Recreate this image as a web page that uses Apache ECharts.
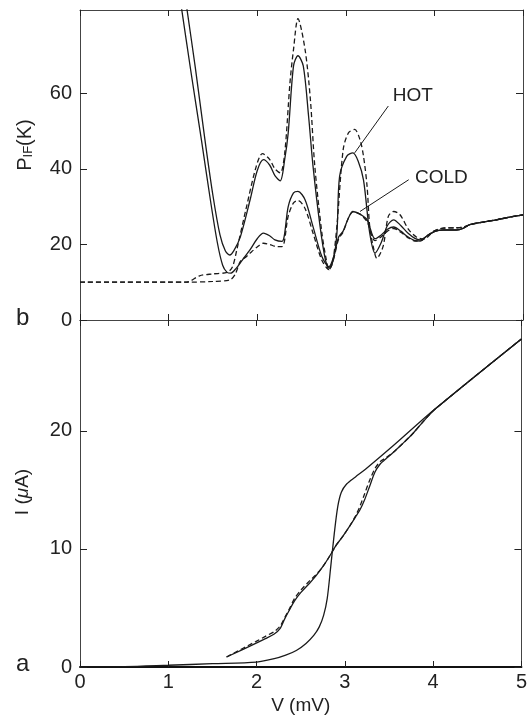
<!DOCTYPE html>
<html lang="en">
<head>
    <meta charset="UTF-8">
    <script src="https://cdn.jsdelivr.net/npm/echarts@6.0.0/dist/echarts.min.js"></script>
    <title>P_IF and I-V</title>
</head>
<body style="margin: 0; background: #fff">
<div id="container" style="width: 530px; height: 721px"></div>

<script>
    // ---- upper panel (b): IF output power, V in mV, P in K ----
    var hotSolidV = [1.19, 1.30, 1.41, 1.50, 1.58, 1.64, 1.69, 1.74, 1.81, 1.92, 2.00, 2.07, 2.14, 2.20, 2.26, 2.31, 2.35, 2.41, 2.46, 2.52, 2.58, 2.63, 2.71, 2.77, 2.81, 2.86, 2.90, 2.93, 3.01, 3.08, 3.14, 3.20, 3.27, 3.33, 3.40, 3.47, 3.54, 3.62, 3.70, 3.78, 3.84, 3.92, 4.00, 4.10, 4.25, 4.33, 4.40, 4.55, 4.70, 4.85, 5.00];
    var hotSolidP = [85, 67, 47.7, 33, 22.5, 18.3, 17.2, 18.5, 22, 31.8, 39.5, 42.4, 41, 38.2, 36.8, 42.4, 49.5, 67.2, 69.9, 67.2, 53.9, 40.7, 24.7, 15.9, 13.7, 16, 23, 38, 43.3, 44.2, 42, 37, 23, 17.7, 20.5, 25, 26.5, 25, 23, 21.6, 21.2, 22.3, 23.4, 23.8, 23.8, 24.3, 25.2, 25.9, 26.5, 27.2, 27.8];

    var hotDashV = [0, 0.5, 1.0, 1.20, 1.35, 1.50, 1.66, 1.72, 1.77, 1.88, 1.99, 2.06, 2.14, 2.20, 2.26, 2.31, 2.37, 2.41, 2.46, 2.54, 2.60, 2.65, 2.73, 2.78, 2.81, 2.85, 2.90, 2.97, 3.03, 3.10, 3.16, 3.20, 3.24, 3.27, 3.31, 3.35, 3.42, 3.48, 3.54, 3.61, 3.71, 3.80, 3.88, 4.00, 4.10, 4.25, 4.33, 4.40, 4.55, 4.70, 4.85, 5.00];
    var hotDashP = [10, 10, 10, 10, 11.7, 12.2, 12.6, 14, 18.6, 30, 40.7, 44, 42.5, 40, 38.9, 44, 62.8, 71.6, 79.7, 71.6, 58.4, 40.7, 23, 15.9, 13.3, 15, 25, 45, 49.5, 50.4, 47.7, 43.3, 35.4, 24.7, 19.4, 16.3, 19.4, 27.4, 28.7, 27.9, 23.9, 21.9, 21.4, 23.6, 24.3, 24.4, 24.6, 25.2, 25.9, 26.5, 27.2, 27.8];

    var coldSolidV = [1.13, 1.25, 1.37, 1.47, 1.55, 1.61, 1.66, 1.70, 1.76, 1.83, 1.92, 2.00, 2.07, 2.14, 2.20, 2.28, 2.35, 2.41, 2.46, 2.54, 2.63, 2.73, 2.81, 2.86, 2.92, 2.97, 3.03, 3.08, 3.16, 3.24, 3.33, 3.40, 3.47, 3.54, 3.62, 3.70, 3.78, 3.84, 3.92, 4.00, 4.10, 4.25, 4.33, 4.40, 4.55, 4.70, 4.85, 5.00];
    var coldSolidP = [85, 66, 47.7, 32, 20.5, 14.5, 12.6, 12.4, 13.6, 15.8, 18.6, 21.5, 23, 22.3, 21.2, 20.8, 30, 33.6, 34, 31.8, 24.7, 16.8, 14.1, 16.5, 22, 23.5, 27, 28.7, 28, 26.5, 21.5, 22.5, 24, 24.6, 23.5, 22, 21, 20.9, 22.3, 23.4, 23.8, 23.8, 24.3, 25.2, 25.9, 26.5, 27.2, 27.8];

    var coldDashV = [0, 0.5, 1.0, 1.20, 1.50, 1.69, 1.75, 1.81, 1.88, 1.92, 2.00, 2.07, 2.14, 2.20, 2.28, 2.35, 2.41, 2.46, 2.54, 2.63, 2.73, 2.81, 2.86, 2.92, 2.97, 3.03, 3.08, 3.16, 3.24, 3.33, 3.40, 3.47, 3.54, 3.62, 3.70, 3.78, 3.84, 3.92, 4.00, 4.10, 4.25, 4.33, 4.40, 4.55, 4.70, 4.85, 5.00];
    var coldDashP = [10, 10, 10, 10, 10.2, 10.6, 12, 15.5, 16.8, 17.7, 19.3, 20.3, 20, 19.5, 19.4, 27.5, 31, 31.6, 29.5, 23, 15.8, 13.3, 16, 21.5, 23.3, 27, 28.6, 28, 26, 21, 22, 23.5, 24.2, 23.2, 21.8, 20.9, 20.9, 22.3, 23.6, 24.3, 24.4, 24.6, 25.2, 25.9, 26.5, 27.2, 27.8];

    // ---- lower panel (a): I-V curves, I in uA ----
    var ivDarkV = [0, 0.5, 1.0, 1.5, 2.0, 2.2, 2.33, 2.45, 2.56, 2.65, 2.71, 2.76, 2.80, 2.84, 2.88, 2.92, 2.96, 3.02, 3.12, 3.24, 3.54, 4.01, 5.00];
    var ivDarkI = [0, 0.03, 0.15, 0.28, 0.42, 0.7, 1.0, 1.4, 2.0, 2.7, 3.4, 4.4, 5.8, 8.5, 11.3, 13.6, 14.8, 15.5, 16.1, 16.8, 18.7, 21.8, 27.8];

    var ivPumpV = [1.66, 1.99, 2.10, 2.20, 2.27, 2.32, 2.37, 2.43, 2.50, 2.60, 2.67, 2.75, 2.82, 2.90, 2.97, 3.06, 3.12, 3.17, 3.22, 3.28, 3.34, 3.40, 3.46, 3.55, 3.65, 3.76, 3.90, 4.03, 5.00];
    var ivPumpI = [0.85, 2.0, 2.4, 2.8, 3.3, 4.1, 4.8, 5.6, 6.3, 7.1, 7.7, 8.5, 9.3, 10.3, 11.0, 12.0, 12.7, 13.3, 14.1, 15.3, 16.5, 17.2, 17.6, 18.2, 18.9, 19.7, 20.9, 21.9, 27.8];
    var ivPumpDashI = [0.85, 2.15, 2.6, 3.0, 3.5, 4.2, 4.9, 5.8, 6.5, 7.3, 7.8, 8.5, 9.3, 10.3, 11.0, 12.0, 12.8, 13.6, 14.6, 15.8, 16.8, 17.4, 17.7, 18.2, 18.9, 19.7, 20.9, 21.9, 27.8];

    var pTicks = [0, 20, 40, 60];
    var iTicks = [0, 10, 20];

    function pairs(xs, ys) {
        var out = [];
        for (var i = 0; i < xs.length; i++) {
            out.push([xs[i], ys[i]]);
        }
        return out;
    }

    var font = "'Liberation Sans', Arial, sans-serif";
    var ink = '#1a1a1a';
    var axisGrey = '#444';

    var dom = document.getElementById('container');
    var myChart = echarts.init(dom, null, {renderer: 'canvas'});

    function xAxisOf(gridIndex, position, showLabel, lineWidth) {
        return {
            type: 'value', gridIndex: gridIndex, position: position,
            min: 0, max: 5, interval: 1,
            axisLine: {show: true, onZero: false, lineStyle: {color: showLabel ? '#111' : axisGrey, width: lineWidth}},
            axisTick: {show: true, inside: true, length: 6, lineStyle: {color: '#222'}},
            axisLabel: {show: showLabel, fontSize: 20, color: '#222', fontFamily: font, margin: 5},
            splitLine: {show: false}
        };
    }

    function yAxisOf(gridIndex, position, max, ticks, showLabel) {
        return {
            type: 'value', gridIndex: gridIndex, position: position,
            min: 0, max: max,
            axisLine: {show: true, onZero: false, lineStyle: {color: axisGrey, width: 1}},
            axisTick: {show: true, inside: true, length: 7, customValues: ticks, lineStyle: {color: '#222'}},
            axisLabel: {show: showLabel, customValues: ticks, fontSize: 20, color: '#222', fontFamily: font, margin: 8},
            splitLine: {show: false}
        };
    }

    function curve(name, xi, yi, data, dashed) {
        return {
            name: name, type: 'line', xAxisIndex: xi, yAxisIndex: yi,
            data: data, showSymbol: false, smooth: 0.3,
            lineStyle: {color: ink, width: 1.3, type: dashed ? [5, 3] : 'solid'},
            silent: true, animation: false
        };
    }

    var option = {
        animation: false,
        grid: [
            {left: 80, top: 10, width: 443, height: 310},
            {left: 80, top: 320, width: 443, height: 347}
        ],
        xAxis: [
            xAxisOf(0, 'bottom', false, 1),
            xAxisOf(0, 'top', false, 1),
            Object.assign(xAxisOf(1, 'bottom', true, 2), {
                name: 'V (mV)', nameLocation: 'middle', nameGap: 29,
                nameTextStyle: {fontSize: 19, color: '#222', fontFamily: font}
            }),
            xAxisOf(1, 'top', false, 1)
        ],
        yAxis: [
            yAxisOf(0, 'left', 82, pTicks, true),
            yAxisOf(0, 'right', 82, pTicks, false),
            yAxisOf(1, 'left', 29.4, iTicks, true),
            yAxisOf(1, 'right', 29.4, iTicks, false)
        ],
        series: [
            curve('HOT', 0, 0, pairs(hotSolidV, hotSolidP), false),
            curve('HOT theory', 0, 0, pairs(hotDashV, hotDashP), true),
            curve('COLD', 0, 0, pairs(coldSolidV, coldSolidP), false),
            curve('COLD theory', 0, 0, pairs(coldDashV, coldDashP), true),
            curve('unpumped', 2, 2, pairs(ivDarkV, ivDarkI), false),
            curve('pumped', 2, 2, pairs(ivPumpV, ivPumpI), false),
            curve('pumped theory', 2, 2, pairs(ivPumpV, ivPumpDashI), true)
        ]
    };

    // leader lines for the HOT / COLD labels
    option.series[0].markLine = {
        silent: true, symbol: 'none', label: {show: false}, animation: false,
        lineStyle: {color: ink, width: 1, type: 'solid'},
        data: [
            [{coord: [3.10, 44.2]}, {coord: [3.48, 56.6]}],
            [{coord: [3.16, 28.7]}, {coord: [3.71, 37.1]}]
        ]
    };

    myChart.setOption(option);

    // text labels: data-positioned ones go through convertToPixel
    var hotAt = myChart.convertToPixel({xAxisIndex: 0, yAxisIndex: 0}, [3.53, 59.2]);
    var coldAt = myChart.convertToPixel({xAxisIndex: 0, yAxisIndex: 0}, [3.78, 37.7]);

    var txt = function (x, y, text, size, extra) {
        return Object.assign({
            type: 'text', x: x, y: y, silent: true,
            style: {text: text, fontSize: size, fontFamily: font, fill: '#222', align: 'left', verticalAlign: 'middle'}
        }, extra || {});
    };

    myChart.setOption({
        graphic: [
            txt(hotAt[0], hotAt[1], 'HOT', 19),
            txt(coldAt[0], coldAt[1], 'COLD', 19),
            txt(16, 318, 'b', 24),
            txt(16, 664, 'a', 24),
            {
                type: 'text', x: 23, y: 145, rotation: Math.PI / 2, silent: true,
                style: {
                    text: '{n|P}{s|IF}{n|(K)}', align: 'center', verticalAlign: 'middle',
                    fontFamily: font, fill: '#222',
                    rich: {
                        n: {fontSize: 20, fontFamily: font, fill: '#222', lineHeight: 24, verticalAlign: 'bottom'},
                        s: {fontSize: 13, fontFamily: font, fill: '#222', lineHeight: 24, verticalAlign: 'bottom'}
                    }
                }
            },
            {
                type: 'text', x: 23, y: 492, rotation: Math.PI / 2, silent: true,
                style: {
                    text: '{n|I (}{i|\u03bc}{n|A)}', align: 'center', verticalAlign: 'middle',
                    fontFamily: font, fill: '#222',
                    rich: {
                        n: {fontSize: 19, fontFamily: font, fill: '#222'},
                        i: {fontSize: 19, fontFamily: font, fontStyle: 'italic', fill: '#222'}
                    }
                }
            }
        ]
    });
</script>
</body>
</html>
